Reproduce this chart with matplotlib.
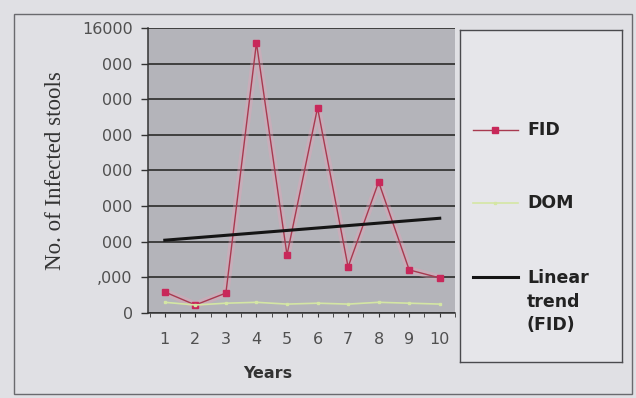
import numpy as np
import matplotlib
matplotlib.use("Agg")
import matplotlib.pyplot as plt
from matplotlib.patches import Rectangle

years = [1, 2, 3, 4, 5, 6, 7, 8, 9, 10]
fid = [1180, 450, 1120, 15170, 3260, 11520, 2580, 7360, 2420, 1970]
dom = [600, 450, 550, 600, 500, 550, 500, 600, 550, 500]
y_ticks = [0, 2000, 4000, 6000, 8000, 10000, 12000, 14000, 16000]
y_tick_labels = ["0", ",000", "000", "000", "000", "000", "000", "000", "16000"]

W, H = 636, 398
SANS = "DejaVu Sans"
fig = plt.figure(figsize=(W / 100, H / 100), dpi=100)
fig.patch.set_facecolor("#e0e0e4")

def px_axes(x0, y0, x1, y1):
    # rectangle given in pixel coords, origin top-left
    return [x0 / W, 1 - y1 / H, (x1 - x0) / W, (y1 - y0) / H]

# outer chart border
fig.patches.append(Rectangle((14 / W, 1 - 394 / H), 618 / W, 380 / H,
                             transform=fig.transFigure, fill=False,
                             edgecolor="#6a6a6e", linewidth=1.0))

ax = fig.add_axes(px_axes(148, 28, 455, 313))
ax.set_facecolor("#b4b4ba")

# soft pink glow under the FID series
ax.plot(years, fid, color="#f0a0b8", linewidth=5, alpha=0.35, solid_capstyle="round")
fid_line, = ax.plot(years, fid, color="#a83a50", linewidth=1.0, marker="s",
                    markersize=5, markerfacecolor="#c8285a",
                    markeredgecolor="#c8285a", label="FID")
dom_line, = ax.plot(years, dom, color="#d4e6a4", linewidth=1.2, marker="s",
                    markersize=2, markerfacecolor="#d4e6a4",
                    markeredgecolor="#d4e6a4", label="DOM")

slope, intercept = np.polyfit(years, fid, 1)
trend = [slope * x + intercept for x in years]
trend_line, = ax.plot(years, trend, color="#151515", linewidth=2.2,
                      label="Linear\ntrend\n(FID)")

ax.set_xlim(0.45, 10.5)
ax.set_ylim(0, 16000)
ax.set_yticks(y_ticks)
ax.set_yticklabels(y_tick_labels, fontsize=11.5, color="#505050", family=SANS)
ax.set_xticks(years)
ax.set_xticklabels([str(y) for y in years], fontsize=11.5, color="#505050",
                   family=SANS)
ax.set_xticks(np.arange(0.5, 10.6, 0.5), minor=True)
ax.tick_params(axis="y", direction="out", length=5, width=1, color="#333333", pad=6)
ax.tick_params(axis="x", which="major", direction="out", length=3, color="#333333", pad=11)
ax.tick_params(axis="x", which="minor", direction="out", length=3, color="#333333")
ax.grid(axis="y", color="#363636", linewidth=1.3)
ax.set_axisbelow(True)
for side in ("top", "right"):
    ax.spines[side].set_visible(False)
for side in ("left", "bottom"):
    ax.spines[side].set_color("#333333")
    ax.spines[side].set_linewidth(1.1)

fig.text(56 / W, 1 - 171 / H, "No. of Infected stools", rotation=90,
         ha="center", va="center", fontsize=16.5, family="Liberation Serif",
         color="#333333")
fig.text(268 / W, 1 - 373 / H, "Years", ha="center", va="center",
         fontsize=11.5, fontweight="bold", family=SANS, color="#333333")

# legend box, drawn in pixel coordinates
lg = fig.add_axes(px_axes(460, 30, 622, 362))
lg.set_facecolor("#e6e6ea")
lg.set_xlim(460, 622)
lg.set_ylim(362, 30)
lg.set_xticks([])
lg.set_yticks([])
for s in lg.spines.values():
    s.set_color("#4a4a4e")
    s.set_linewidth(1.0)

entries = [(fid_line, 130), (dom_line, 203), (trend_line, 277)]
for handle, ypos in entries:
    lg.plot([473, 518], [ypos, ypos], color=handle.get_color(),
            linewidth=handle.get_linewidth())
    if handle.get_marker() not in (None, "None", ""):
        lg.plot([495.5], [ypos], marker="s", markersize=handle.get_markersize(),
                color=handle.get_markerfacecolor())
    label = handle.get_label()
    if "\n" in label:
        lg.text(527, ypos - 8, label, ha="left", va="top", fontsize=12.5,
                fontweight="bold", family=SANS, color="#222222",
                linespacing=1.4)
    else:
        lg.text(527, ypos, label, ha="left", va="center", fontsize=12.5,
                fontweight="bold", family=SANS, color="#222222")

fig.savefig("out.png", dpi=100, facecolor=fig.get_facecolor())
